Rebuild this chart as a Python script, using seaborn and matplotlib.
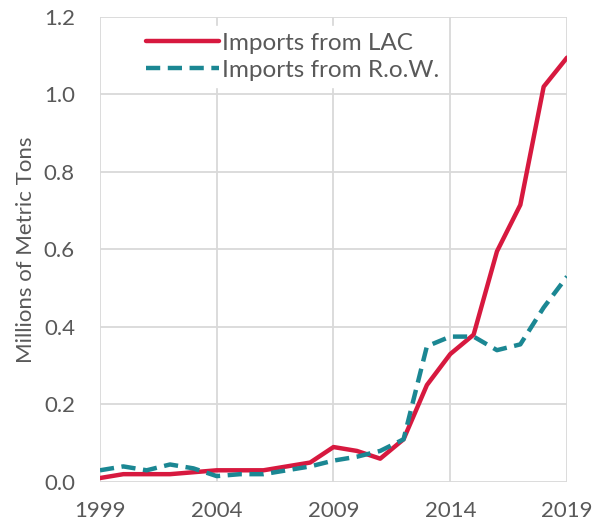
import pandas as pd
import numpy as np
import matplotlib.pyplot as plt
import seaborn as sns

# 数据
years = list(range(1999, 2020))
lac = [0.01, 0.02, 0.02, 0.02, 0.025, 0.03, 0.03, 0.03, 0.04, 0.05, 0.09,
       0.08, 0.06, 0.11, 0.25, 0.33, 0.38, 0.595, 0.715, 1.02, 1.095]
row = [0.03, 0.04, 0.03, 0.045, 0.035, 0.015, 0.02, 0.02, 0.03, 0.04, 0.055,
       0.065, 0.08, 0.11, 0.35, 0.375, 0.375, 0.34, 0.355, 0.45, 0.53]
series_names = ['Imports from LAC', 'Imports from R.o.W.']
x_ticks = [1999, 2004, 2009, 2014, 2019]
y_ticks = [0.0, 0.2, 0.4, 0.6, 0.8, 1.0, 1.2]

df = pd.DataFrame({'year': years, series_names[0]: lac, series_names[1]: row})
long_df = df.melt(id_vars='year', var_name='series', value_name='value')

sns.set_style('white')
plt.rcParams['font.family'] = ['Lato', 'DejaVu Sans']

fig = plt.figure(figsize=(5.95, 5.29), dpi=100)
ax = fig.add_axes([0.168, 0.089, 0.785, 0.879])

sns.lineplot(data=long_df, x='year', y='value', hue='series', style='series',
             palette={series_names[0]: '#D7193F', series_names[1]: '#1B8793'},
             dashes={series_names[0]: '', series_names[1]: (3.2, 1.7)},
             linewidth=3.2, ax=ax)

ax.set_xlim(1999, 2019)
ax.set_ylim(0, 1.2)
ax.set_xticks(x_ticks)
ax.set_yticks(y_ticks)
ax.set_yticklabels([f'{v:.1f}' for v in y_ticks])
ax.grid(True, color='#D9D9D9', linewidth=1.3)
ax.set_axisbelow(True)
for s in ax.spines.values():
    s.set_visible(False)
ax.tick_params(axis='both', labelsize=16, labelcolor='#595959', length=0)
ax.tick_params(axis='y', pad=18)
ax.tick_params(axis='x', pad=14)
ax.set_xlabel('')
ax.set_ylabel('Millions of Metric Tons', fontsize=16, color='#595959', labelpad=6)

leg = ax.legend(loc='upper left', bbox_to_anchor=(0.075, 0.99), fontsize=17.5,
                frameon=True, framealpha=1, edgecolor='white', facecolor='white',
                handlelength=3.0, handletextpad=0.15, labelspacing=0.25,
                borderaxespad=0.2, borderpad=0.25)
for t in leg.get_texts():
    t.set_color('#595959')
for h in leg.get_lines():
    h.set_linewidth(3.2)

plt.savefig('out.png', dpi=100)
plt.close()
